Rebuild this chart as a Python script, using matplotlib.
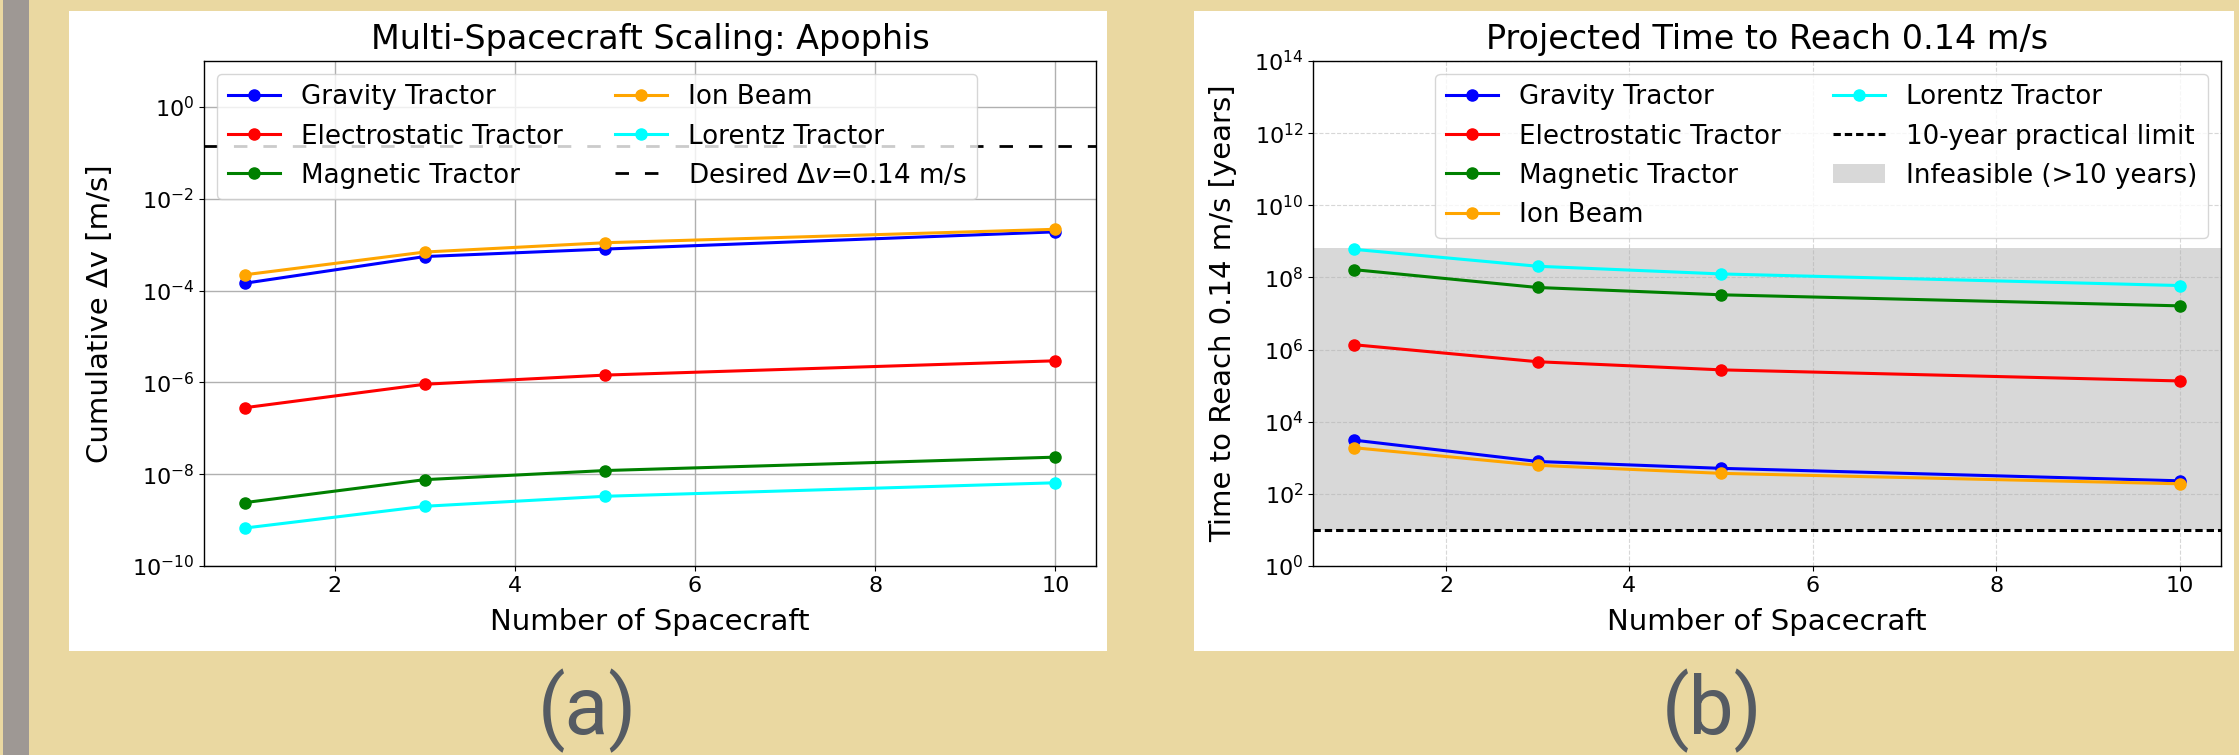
import matplotlib
matplotlib.use("Agg")
import matplotlib.pyplot as plt
from matplotlib.patches import Rectangle
from matplotlib.ticker import NullLocator, FixedLocator

# ---------------- data ----------------
n_spacecraft = [1, 3, 5, 10]
methods = ["Gravity Tractor", "Electrostatic Tractor", "Magnetic Tractor", "Ion Beam", "Lorentz Tractor"]
colors = ["blue", "red", "green", "orange", "cyan"]

dv_gravity = [1.44e-4, 5.5e-4, 8.0e-4, 1.9e-3]
dv_electrostatic = [2.8e-7, 9.1e-7, 1.44e-6, 2.95e-6]
dv_magnetic = [2.4e-9, 7.6e-9, 1.2e-8, 2.35e-8]
dv_ion = [2.2e-4, 6.9e-4, 1.1e-3, 2.16e-3]
dv_lorentz = [6.7e-10, 2.0e-9, 3.3e-9, 6.5e-9]

t_gravity = [3.08e3, 7.9e2, 5.1e2, 2.3e2]
t_electrostatic = [1.36e6, 4.6e5, 2.74e5, 1.35e5]
t_magnetic = [1.64e8, 5.26e7, 3.3e7, 1.63e7]
t_ion = [1.9e3, 6.2e2, 3.7e2, 1.9e2]
t_lorentz = [6.0e8, 2.04e8, 1.25e8, 5.96e7]

desired_dv = 0.14
limit_years = 10
span_top = 6.6e8

dv_series = [dv_gravity, dv_electrostatic, dv_magnetic, dv_ion, dv_lorentz]
t_series = [t_gravity, t_electrostatic, t_magnetic, t_ion, t_lorentz]

# ---------------- figure ----------------
W, H = 2239, 755
fig = plt.figure(figsize=(W / 100, H / 100), dpi=100)
fig.patch.set_facecolor("#EAD8A1")

def px_rect(x0, y0, x1, y1, color):
    r = Rectangle((x0 / W, 1 - y1 / H), (x1 - x0) / W, (y1 - y0) / H,
                  transform=fig.transFigure, facecolor=color, edgecolor="none", zorder=-10)
    fig.add_artist(r)

px_rect(3, 0, 29, H, "#9E9894")
px_rect(69, 11, 1107, 651, "white")
px_rect(1194, 11, 2234, 651, "white")

def ax_at(x0, y0, x1, y1):
    return fig.add_axes([x0 / W, 1 - y1 / H, (x1 - x0) / W, (y1 - y0) / H])

ax1 = ax_at(204, 61, 1096, 566)
ax2 = ax_at(1313, 61, 2221, 566)

TICK = 16
LAB = 21
TIT = 24
LEG = 18.8
LW = 2.2
MS = 8

# ---- panel (a) ----
for name, c, vals in zip(methods, colors, dv_series):
    ax1.plot(n_spacecraft, vals, "-o", color=c, lw=LW, ms=MS, label=name)
ax1.axhline(desired_dv, color="black", lw=2, linestyle=(0, (4.85, 5.75)),
            label=r"Desired $\Delta v$=0.14 m/s")
ax1.set_yscale("log")
ax1.set_ylim(1e-10, 10)
ax1.yaxis.set_major_locator(FixedLocator([1e-10, 1e-8, 1e-6, 1e-4, 1e-2, 1e0]))
ax1.yaxis.set_minor_locator(NullLocator())
ax1.set_xticks([2, 4, 6, 8, 10])
ax1.grid(True, color="#b0b0b0", lw=1)
ax1.set_xlabel("Number of Spacecraft", fontsize=LAB, labelpad=9)
ax1.set_ylabel(r"Cumulative Δv [m/s]", fontsize=LAB, labelpad=13)
ax1.set_title("Multi-Spacecraft Scaling: Apophis", fontsize=TIT, pad=9)
ax1.tick_params(labelsize=TICK)
ax1.legend(loc="upper left", ncol=2, fontsize=LEG)

# ---- panel (b) ----
for name, c, vals in zip(methods, colors, t_series):
    ax2.plot(n_spacecraft, vals, "-o", color=c, lw=LW, ms=MS, label=name)
ax2.axhline(limit_years, color="black", lw=2.2, linestyle=(0, (2.4, 1.3)),
            label="10-year practical limit")
ax2.axhspan(limit_years, span_top, color="gray", alpha=0.3, lw=0,
            label="Infeasible (>10 years)")
ax2.set_yscale("log")
ax2.set_ylim(1, 1e14)
ax2.yaxis.set_major_locator(FixedLocator([1e0, 1e2, 1e4, 1e6, 1e8, 1e10, 1e12, 1e14]))
ax2.yaxis.set_minor_locator(NullLocator())
ax2.set_xticks([2, 4, 6, 8, 10])
ax2.grid(True, linestyle="--", alpha=0.5)
ax2.set_xlabel("Number of Spacecraft", fontsize=LAB, labelpad=9)
ax2.set_ylabel("Time to Reach 0.14 m/s [years]", fontsize=LAB, labelpad=12)
ax2.set_title("Projected Time to Reach 0.14 m/s", fontsize=TIT, pad=9)
ax2.tick_params(labelsize=TICK)
ax2.legend(loc="upper right", ncol=2, fontsize=LEG)

for ax in (ax1, ax2):
    for s in ax.spines.values():
        s.set_linewidth(1.0)

# captions
fig.text(587 / W, 1 - 734 / H, "(a)", ha="center", va="baseline",
         fontsize=58, color="#555B63", family="Roboto")
fig.text(1712 / W, 1 - 734 / H, "(b)", ha="center", va="baseline",
         fontsize=58, color="#555B63", family="Roboto")

fig.savefig("out.png", dpi=100, facecolor=fig.get_facecolor())
